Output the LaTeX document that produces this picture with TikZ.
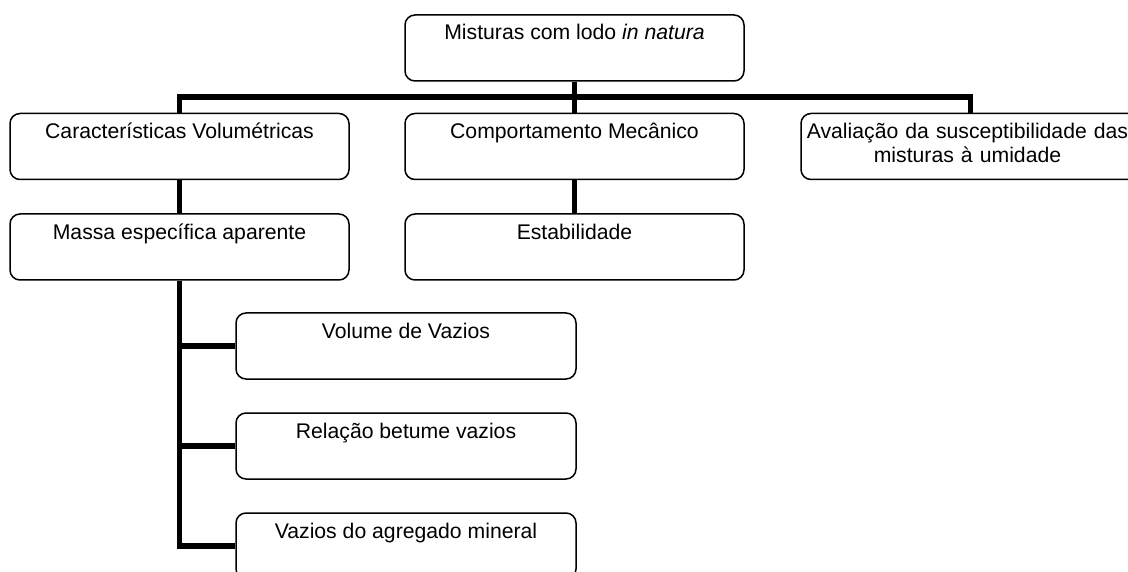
\documentclass[tikz,border=0pt]{standalone}
\usepackage{fontspec}
\setmainfont{Liberation Sans}

\begin{document}
\begin{tikzpicture}[x=1pt, y=-1pt,
  box/.style={draw, line width=1.5pt, rounded corners=10pt, minimum width=339pt, minimum height=66pt, inner sep=0pt},
  boxtext/.style={anchor=base, inner sep=0pt, align=center, font=\fontsize{21.2}{24}\selectfont},
  link/.style={line width=5.5pt}]

\def\width{1128}
\def\height{572}

\path [use as bounding box] (0,0) rectangle (\width,\height);

% BOXES
\node [box] (mist) at (574.5,48) {};
\node [box] (cvol) at (179.5,146.5) {};
\node [box] (cmec) at (574.5,146.5) {};
\node [box] (aval) at (970.5,146.5) {};
\node [box] (mesp) at (179.5,247) {};
\node [box] (estab) at (574.5,247) {};
\node [box, minimum width=340pt] (vvaz) at (406,346) {};
\node [box, minimum width=340pt] (rbv) at (406,446) {};
\node [box, minimum width=340pt] (vam) at (406,546) {};

% TEXTS
\node [boxtext] (mist-t) at ([yshift=-25pt]mist.north) {Misturas com lodo \textit{in natura}};
\node [boxtext] (cvol-t) at ([yshift=-26pt]cvol.north) {Características Volumétricas};
\node [boxtext] (cmec-t) at ([yshift=-26pt]cmec.north) {Comportamento Mecânico};
\node [boxtext, text width=335pt] (aval-t) at ([xshift=-3pt,yshift=-26pt]aval.north) {Avaliação da susceptibilidade das\\misturas à umidade};
\node [boxtext] (mesp-t) at ([yshift=-26pt]mesp.north) {Massa específica aparente};
\node [boxtext] (estab-t) at ([yshift=-26pt]estab.north) {Estabilidade};
\node [boxtext] (vvaz-t) at ([yshift=-26pt]vvaz.north) {Volume de Vazios};
\node [boxtext] (rbv-t) at ([yshift=-26pt]rbv.north) {Relação betume vazios};
\node [boxtext] (vam-t) at ([yshift=-26pt]vam.north) {Vazios do agregado mineral};

% LINKS
\coordinate (bus) at (574.5,97);
\draw [link] (mist.south) -- (cmec.north);
\draw [link] (cvol.north) |- (bus) -| (aval.north);
\draw [link] (cvol.south) -- (mesp.north);
\draw [link] (cmec.south) -- (estab.north);
\foreach \n in {vvaz,rbv,vam}
  \draw [link] (mesp.south) |- (\n.west);

\end{tikzpicture}
\end{document}
